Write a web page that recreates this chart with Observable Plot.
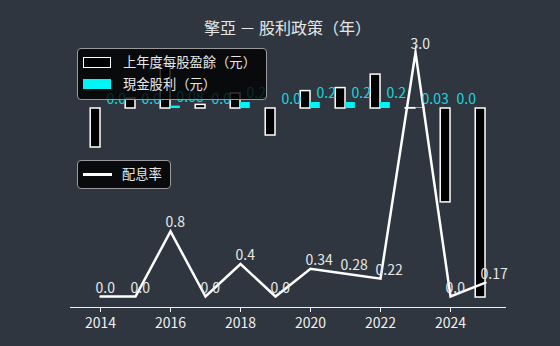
<!DOCTYPE html>
<html lang="zh-Hant-TW">
<head>
<meta charset="utf-8">
<script src="https://cdn.jsdelivr.net/npm/d3@7"></script>
<script src="https://cdn.jsdelivr.net/npm/@observablehq/plot@0.6"></script>
<style>
  html, body { margin: 0; padding: 0; background: #2f363f; }
  body { width: 560px; height: 346px; overflow: hidden; position: relative;
         font-family: "Noto Sans CJK TC", "Noto Sans", sans-serif; text-spacing-trim: space-all; }
  #title { position: absolute; left: 70px; width: 435px; top: 0; height: 30px;
           line-height: 54px; text-align: center; color: #e6e6e6; font-size: 16px; z-index: 2; }
  #chart { position: absolute; left: 0; top: 30px; }
  .legend { position: absolute; box-sizing: border-box; background: rgba(0,0,0,0.8);
            border: 1px solid #9a9a9a; border-radius: 4px; color: #e6e6e6; font-size: 13.3px; }
  .item { position: absolute; white-space: nowrap; }
  .sw { position: absolute; box-sizing: border-box; }
</style>
</head>
<body>
<div id="title"></div>
<div id="chart"></div>
<div class="legend" id="leg1" style="left:77px; top:48px; width:190px; height:52px;"></div>
<div class="legend" id="leg2" style="left:77px; top:160px; width:94px; height:29px;"></div>
<script>
const title = "擎亞 － 股利政策（年）";
const years = [2014, 2015, 2016, 2017, 2018, 2019, 2020, 2021, 2022, 2023, 2024, 2025];
const eps = [-1.3, 0.33, 1.43, 0.12, 0.5, -0.9, 0.58, 0.68, 1.13, 0.01, -3.13, -6.3];
const dividend = [0, 0, 0.08, 0, 0.2, 0, 0.2, 0.2, 0.2, 0.03, 0, null];
const payout = [0, 0, 0.8, 0, 0.4, 0, 0.34, 0.28, 0.22, 3.0, 0, 0.17];
const xTicks = [2014, 2016, 2018, 2020, 2022, 2024];
const legendLabels = ["上年度每股盈餘（元）", "現金股利（元）", "配息率"];

const cyan = "#00f5f5";
const fmt = v => (Math.abs(v * 10 - Math.round(v * 10)) < 1e-9 ? v.toFixed(1) : v.toFixed(2));
// payout ratio shares the frame with EPS on a secondary (twin) axis
const ratioOffset = -188 / 30, ratioFactor = 81.3 / 30;
const toPrimary = p => ratioOffset + ratioFactor * p;

const data = years.map((year, i) => ({ year, eps: eps[i], div: dividend[i], payout: payout[i] }));
const bw = 0.28;

document.getElementById("title").textContent = title;

const chart = Plot.plot({
  width: 560, height: 316,
  marginLeft: 70, marginRight: 55, marginTop: 20, marginBottom: 39,
  style: { background: "none", color: "#f0f0f0", fontFamily: "Noto Sans CJK TC, Noto Sans, sans-serif" },
  x: { type: "linear", domain: [2013.143, 2025.571], axis: null },
  y: { domain: [-6.633, 1.933], axis: null },
  marks: [
    Plot.rect(data, { x1: d => d.year - bw, x2: d => d.year, y1: 0, y2: "eps", fill: "black", stroke: "white", strokeWidth: 1.5 }),
    Plot.rect(data.filter(d => d.div != null), { x1: "year", x2: d => d.year + bw, y1: 0, y2: "div", fill: cyan }),
    Plot.frame({ anchor: "bottom", stroke: "#f0f0f0", strokeWidth: 1 }),
    Plot.axisX({ ticks: xTicks, tickFormat: d => String(d), tickSize: 5, tickPadding: 6, fontSize: 14, anchor: "bottom", color: "#f0f0f0", label: null }),
    Plot.line(data, { x: "year", y: d => toPrimary(d.payout), stroke: "white", strokeWidth: 2.5, strokeLinejoin: "miter", strokeMiterlimit: 10 }),
    Plot.text(data, { x: "year", y: d => toPrimary(d.payout), text: d => fmt(d.payout), dx: -5, dy: -4, textAnchor: "start", lineAnchor: "bottom", fill: "#e8e8e8", fontSize: 14 }),
    Plot.text(data.filter(d => d.div != null), { x: "year", y: "div", text: d => fmt(d.div), dx: 6, dy: -4, textAnchor: "start", lineAnchor: "bottom", fill: "#18d8e0", fontSize: 14 })
  ]
});
document.getElementById("chart").appendChild(chart);

// legends
const leg1 = document.getElementById("leg1");
leg1.innerHTML =
  `<div class="sw" style="left:5px; top:8px; width:28px; height:11px; background:#000; border:1.5px solid #fff;"></div>` +
  `<div class="item" style="left:45px; top:4px; line-height:18px;">${legendLabels[0]}</div>` +
  `<div class="sw" style="left:5px; top:30px; width:28px; height:10px; background:${cyan};"></div>` +
  `<div class="item" style="left:45px; top:26px; line-height:18px;">${legendLabels[1]}</div>`;
const leg2 = document.getElementById("leg2");
leg2.innerHTML =
  `<div class="sw" style="left:5px; top:12px; width:29px; height:2.5px; background:#fff;"></div>` +
  `<div class="item" style="left:44px; top:4px; line-height:18px;">${legendLabels[2]}</div>`;
</script>
</body>
</html>
